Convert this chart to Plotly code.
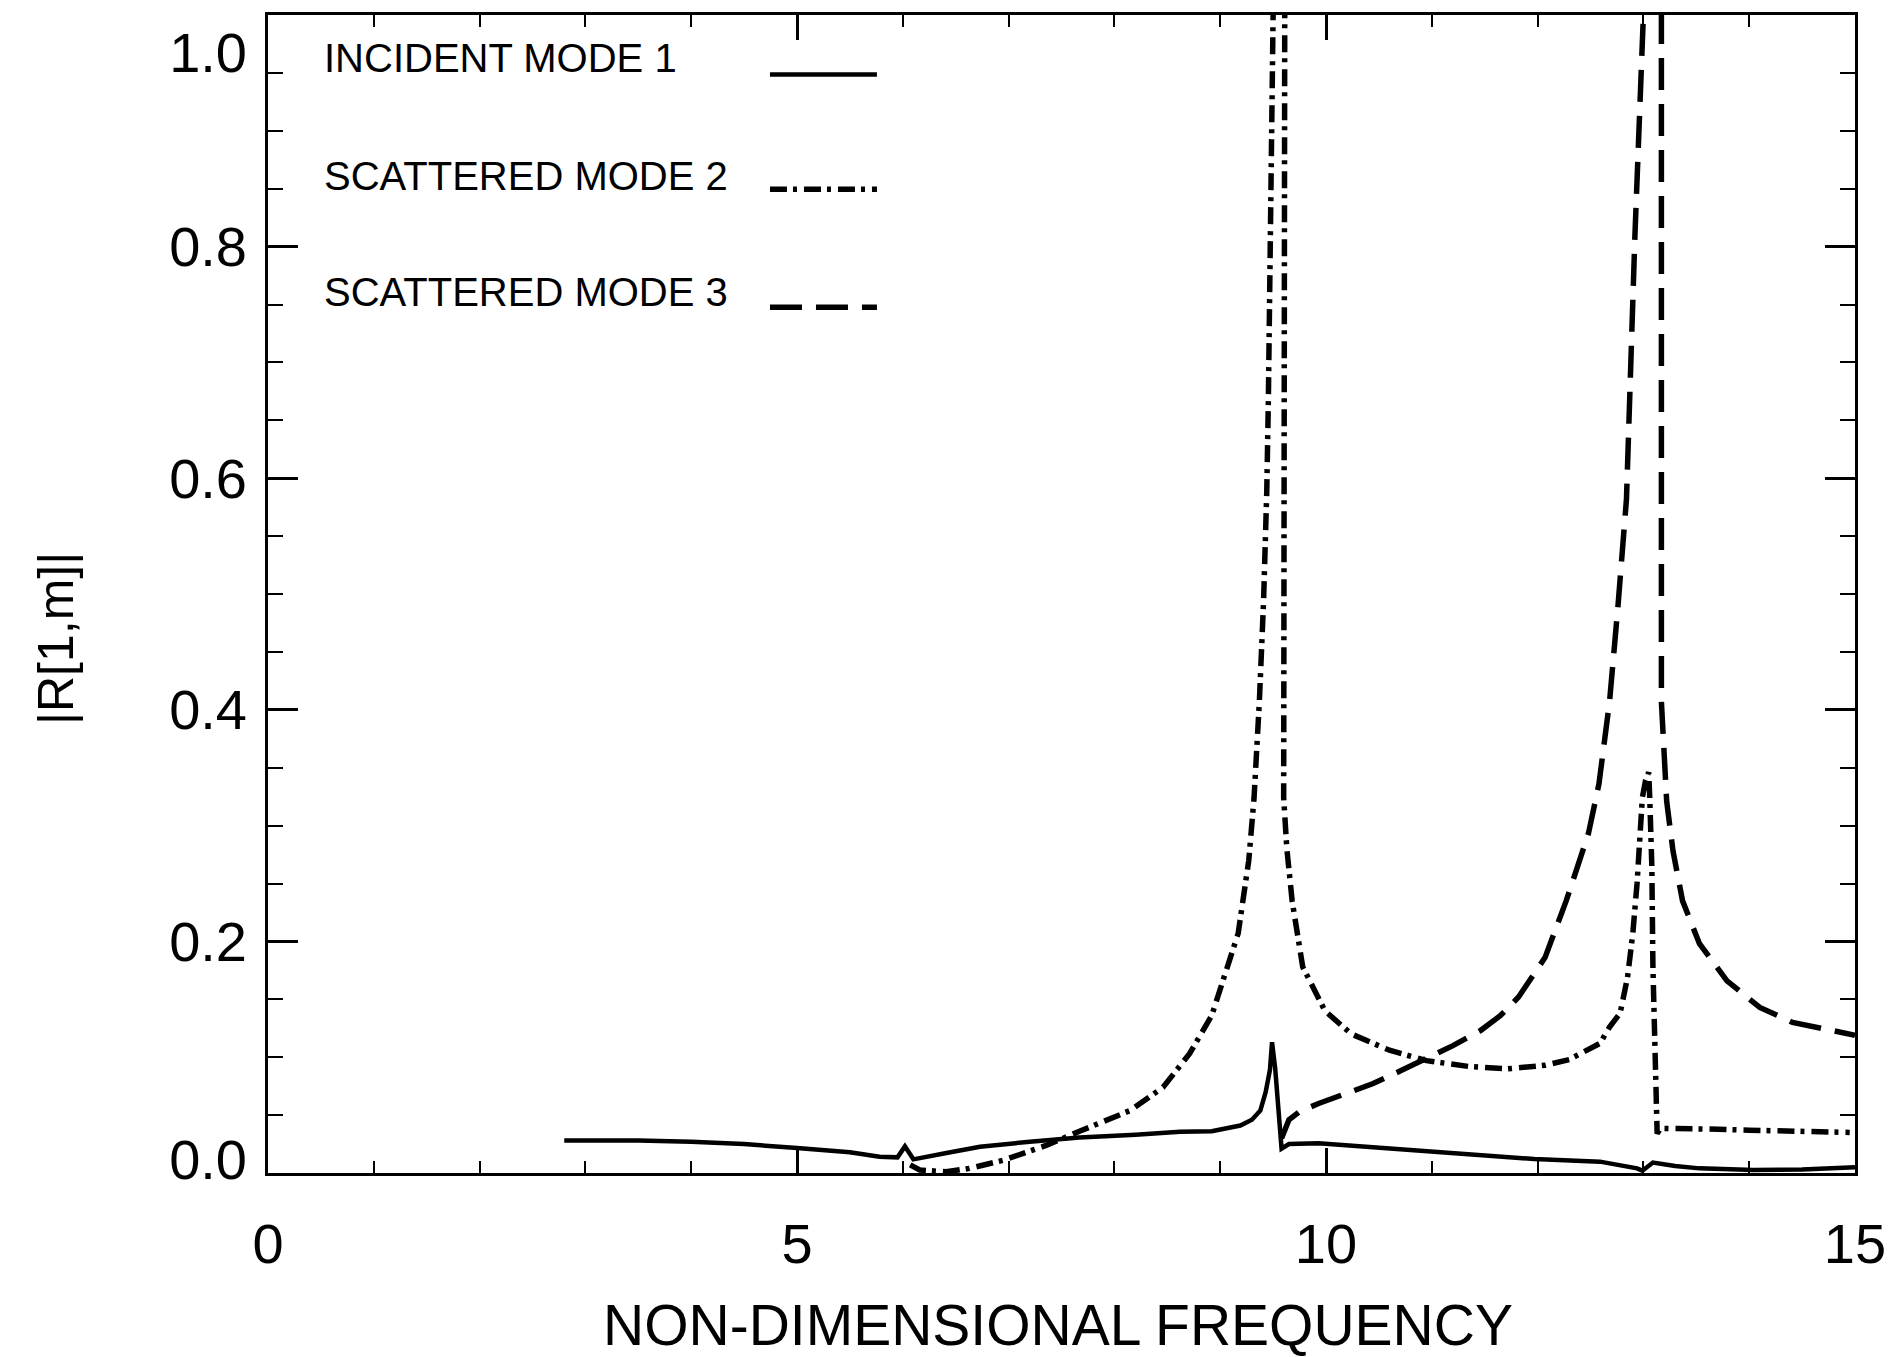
import plotly.graph_objects as go

# Incident mode 1 (solid)
freq_m1 = [2.80, 3.5, 4.0, 4.5, 5.0, 5.5, 5.78, 5.95, 6.02, 6.10, 6.4, 6.73, 7.2, 7.67,
           8.2, 8.62, 8.92, 9.19, 9.30, 9.38, 9.43, 9.47, 9.49, 9.52, 9.58, 9.65, 9.93,
           10.5, 11.0, 11.5, 11.97, 12.59, 12.94, 12.99, 13.09, 13.3, 13.53, 14.04, 14.5, 15.0]
amp_m1 = [0.028, 0.028, 0.027, 0.025, 0.0215, 0.018, 0.014, 0.0135, 0.023, 0.0118, 0.017,
          0.0227, 0.027, 0.0307, 0.033, 0.0356, 0.036, 0.041, 0.046, 0.054, 0.07, 0.089,
          0.113, 0.09, 0.021, 0.025, 0.0256, 0.022, 0.019, 0.015, 0.012, 0.0098, 0.004,
          0.002, 0.009, 0.006, 0.004, 0.0026, 0.003, 0.005]

# Scattered mode 2 (dash-dot)
freq_m2 = [6.07, 6.16, 6.41, 6.63, 6.95, 7.36, 7.67, 8.15, 8.46, 8.71, 8.92, 9.17, 9.27,
           9.32, 9.37, 9.41, 9.44, 9.455, 9.50, 9.555, 9.61, 9.605, 9.60, 9.60, 9.63, 9.68,
           9.78, 9.99, 10.24, 10.6, 10.95, 11.35, 11.72, 12.07, 12.3, 12.48, 12.59, 12.68,
           12.78, 12.85, 12.90, 12.94, 12.97, 12.99, 13.02, 13.05, 13.06, 13.08, 13.09,
           13.12, 13.13, 13.16, 13.22, 13.6, 14.0, 14.5, 14.95]
amp_m2 = [0.007, 0.0026, 0.001, 0.004, 0.011, 0.024, 0.036, 0.054, 0.074, 0.103, 0.136,
          0.207, 0.27, 0.324, 0.407, 0.494, 0.588, 0.666, 1.0, 1.4, 1.0, 0.666, 0.494,
          0.324, 0.28, 0.235, 0.178, 0.140, 0.12, 0.106, 0.097, 0.092, 0.090, 0.093, 0.098,
          0.106, 0.112, 0.126, 0.138, 0.169, 0.207, 0.25, 0.293, 0.324, 0.339, 0.346,
          0.324, 0.264, 0.178, 0.092, 0.034, 0.0385, 0.0385, 0.038, 0.037, 0.036, 0.035]

# Scattered mode 3 (dashed)
freq_m3 = [9.58, 9.62, 9.65, 9.75, 9.93, 10.2, 10.44, 10.7, 10.95, 11.2, 11.46, 11.65,
           11.82, 12.07, 12.27, 12.48, 12.58, 12.68, 12.76, 12.84, 12.92, 13.0, 13.08,
           13.17, 13.17, 13.17, 13.22, 13.28, 13.37, 13.53, 13.79, 14.1, 14.41, 14.7, 15.0]
amp_m3 = [0.03, 0.04, 0.046, 0.053, 0.06, 0.069, 0.077, 0.088, 0.099, 0.110, 0.123, 0.136,
          0.152, 0.186, 0.235, 0.293, 0.336, 0.407, 0.49, 0.582, 0.81, 1.0, 1.5, 1.0, 0.6,
          0.407, 0.321, 0.278, 0.235, 0.198, 0.166, 0.143, 0.130, 0.124, 0.119]

x_ticks = [0, 5, 10, 15]
y_ticks = [0.0, 0.2, 0.4, 0.6, 0.8, 1.0]
y_tick_text = ["0.0", "0.2", "0.4", "0.6", "0.8", "1.0"]
# label positions as printed (end labels nudged inward like the original)
y_label_pos = [0.012, 0.2, 0.4, 0.6, 0.8, 0.968]

legend_names = ["INCIDENT MODE 1", "SCATTERED MODE 2", "SCATTERED MODE 3"]

FONT = "Liberation Sans, Arial, Helvetica, sans-serif"
DASHDOT = "17px,6px,4px,7px"
DASHED = "32px,14px"

fig = go.Figure()
fig.add_trace(go.Scatter(x=freq_m1, y=amp_m1, mode="lines",
                         line=dict(color="black", width=4.5)))
fig.add_trace(go.Scatter(x=freq_m2, y=amp_m2, mode="lines",
                         line=dict(color="black", width=5.5, dash=DASHDOT)))
fig.add_trace(go.Scatter(x=freq_m3, y=amp_m3, mode="lines",
                         line=dict(color="black", width=5.5, dash=DASHED)))
# carrier for the label axis
fig.add_trace(go.Scatter(x=[0], y=[0], mode="markers", yaxis="y2",
                         marker=dict(opacity=0), hoverinfo="skip"))

# legend drawn like the original: text, then a line sample
legend_y = [0.963, 0.861, 0.761]
sample_y = [0.9487, 0.8495, 0.7476]
styles = [dict(width=4.5), dict(width=5.5, dash=DASHDOT), dict(width=5.5, dash=DASHED)]
for name, ty, sy, st in zip(legend_names, legend_y, sample_y, styles):
    fig.add_annotation(x=0.034, y=ty, xref="paper", yref="paper", text=name,
                       showarrow=False, xanchor="left", yanchor="middle",
                       font=dict(size=40, color="black", family=FONT))
    fig.add_shape(type="line", xref="paper", yref="paper", x0=0.3163, x1=0.3837,
                  y0=sy, y1=sy, line=dict(color="black", **st))

fig.add_annotation(x=-0.1336, y=0.462, xref="paper", yref="paper", text="|R[1,m]|",
                   showarrow=False, textangle=-90, xanchor="center", yanchor="middle",
                   font=dict(size=50, color="black", family=FONT))
fig.add_annotation(x=0.498, y=-0.131, xref="paper", yref="paper",
                   text="NON-DIMENSIONAL FREQUENCY", showarrow=False,
                   xanchor="center", yanchor="middle",
                   font=dict(size=57, color="black", family=FONT))

# page body adds an 8px margin on the top/left, so shift the canvas back by that
fig.update_layout(
    width=1886, height=1349,
    margin=dict(l=260, r=39, t=4, b=184),
    paper_bgcolor="white", plot_bgcolor="white",
    showlegend=False,
    font=dict(family=FONT, color="black"),
    xaxis=dict(range=[0, 15], tickvals=x_ticks, ticks="inside", ticklen=25,
               tickwidth=2.5, tickcolor="black", showgrid=False, zeroline=False,
               showline=True, linecolor="black", linewidth=3, mirror="ticks",
               tickfont=dict(size=56), ticklabelstandoff=20,
               ticklabeloverflow="allow",
               minor=dict(dtick=1, ticks="inside", ticklen=12, tickwidth=2,
                          tickcolor="black", showgrid=False)),
    yaxis=dict(range=[0, 1.0], tickvals=y_ticks, ticks="inside", ticklen=30,
               tickwidth=2.5, tickcolor="black", showgrid=False, zeroline=False,
               showline=True, linecolor="black", linewidth=3, mirror="ticks",
               showticklabels=False,
               minor=dict(dtick=0.05, ticks="inside", ticklen=15, tickwidth=2,
                          tickcolor="black", showgrid=False)),
    yaxis2=dict(range=[0, 1.0], overlaying="y", side="left", tickvals=y_label_pos,
                ticktext=y_tick_text, ticks="", showgrid=False, zeroline=False,
                showline=False, tickfont=dict(size=56), ticklabelstandoff=20),
)

fig.write_html("out.html")
